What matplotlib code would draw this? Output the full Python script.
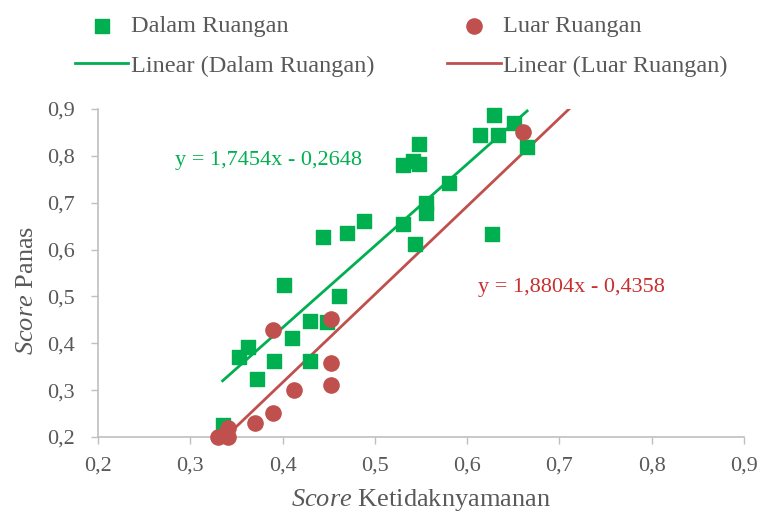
import numpy as np
import matplotlib
matplotlib.use("Agg")
import matplotlib.pyplot as plt

# --- data ---
dalam_x = [0.335, 0.353, 0.363, 0.372, 0.391, 0.402, 0.410, 0.430, 0.430, 0.448,
           0.461, 0.444, 0.470, 0.488, 0.629, 0.614, 0.633, 0.651, 0.665, 0.548,
           0.531, 0.541, 0.548, 0.580, 0.555, 0.555, 0.530, 0.543, 0.627]
dalam_y = [0.226, 0.371, 0.392, 0.324, 0.362, 0.524, 0.411, 0.447, 0.362, 0.445,
           0.500, 0.626, 0.635, 0.661, 0.887, 0.844, 0.844, 0.870, 0.818, 0.825,
           0.780, 0.790, 0.782, 0.742, 0.699, 0.678, 0.654, 0.612, 0.633]

luar_x = [0.330, 0.341, 0.341, 0.370, 0.390, 0.412, 0.390, 0.452, 0.452, 0.452, 0.661]
luar_y = [0.200, 0.200, 0.219, 0.230, 0.251, 0.300, 0.428, 0.452, 0.358, 0.311, 0.850]

# trendline coefficients (from the chart labels)
dalam_coef = (1.7454, -0.2648)
luar_coef = (1.8804, -0.4358)
dalam_range = (0.335, 0.665)
luar_range = (0.330, 0.711)

ticks = [0.2, 0.3, 0.4, 0.5, 0.6, 0.7, 0.8, 0.9]

green = "#00B050"
red = "#C0504D"
grey = "#595959"

plt.rcParams["font.family"] = ["Liberation Serif", "DejaVu Serif"]
plt.rcParams["mathtext.fontset"] = "custom"
plt.rcParams["mathtext.rm"] = "Liberation Serif"
plt.rcParams["mathtext.it"] = "Liberation Serif:italic"

fig = plt.figure(figsize=(7.61, 5.15), dpi=100)
ax = fig.add_axes([0.1288, 0.1515, 0.8489, 0.6368])

ax.scatter(dalam_x, dalam_y, marker="s", s=90, color=green, zorder=3,
           label="Dalam Ruangan", clip_on=False)
ax.scatter(luar_x, luar_y, marker="o", s=120, color=red, zorder=3,
           label="Luar Ruangan", clip_on=False)

xd = np.linspace(*dalam_range, 50)
xl = np.linspace(*luar_range, 50)
ax.plot(xd, dalam_coef[0] * xd + dalam_coef[1], color=green, lw=2,
        label="Linear (Dalam Ruangan)", zorder=2)
ax.plot(xl, luar_coef[0] * xl + luar_coef[1], color=red, lw=2,
        label="Linear (Luar Ruangan)", zorder=2)

ax.set_xlim(0.2, 0.9)
ax.set_ylim(0.2, 0.9)
ax.set_xticks(ticks)
ax.set_yticks(ticks)
fmt = [f"{t:.1f}".replace(".", ",") for t in ticks]
ax.set_xticklabels(fmt)
ax.set_yticklabels(fmt)
ax.tick_params(colors="#BFBFBF", labelcolor=grey, labelsize=16, length=5,
               width=1, direction="out")
ax.tick_params(axis="x", pad=9)
ax.tick_params(axis="y", pad=12)

for s in ["top", "right"]:
    ax.spines[s].set_visible(False)
for s in ["left", "bottom"]:
    ax.spines[s].set_color("#BFBFBF")
    ax.spines[s].set_linewidth(1.2)

# axis titles
fig.text(421 / 761, 1 - 500 / 515, r"$\mathit{Score}$ Ketidaknyamanan",
         fontsize=19, color=grey, ha="center", va="center")
fig.text(27 / 761, 1 - 290 / 515, r"$\mathit{Score}$ Panas",
         fontsize=19, color=grey, ha="center", va="center", rotation=90)

ax.text(0.283, 0.79, "y = 1,7454x - 0,2648", color=green, fontsize=16,
        va="center")
ax.text(0.612, 0.518, "y = 1,8804x - 0,4358", color="#C8302F", fontsize=16,
        va="center")

handles, labels = ax.get_legend_handles_labels()
order = [0, 2, 1, 3]
leg = fig.legend([handles[i] for i in order], [labels[i] for i in order],
                 ncol=2, loc="upper left", bbox_to_anchor=(75 / 761, 1 - 15 / 515),
                 frameon=False, fontsize=17.5, handlelength=2.2,
                 handletextpad=0.1, columnspacing=3.0, labelspacing=0.72,
                 borderpad=0, borderaxespad=0)
for t in leg.get_texts():
    t.set_color(grey)

fig.savefig("out.png", dpi=100)
